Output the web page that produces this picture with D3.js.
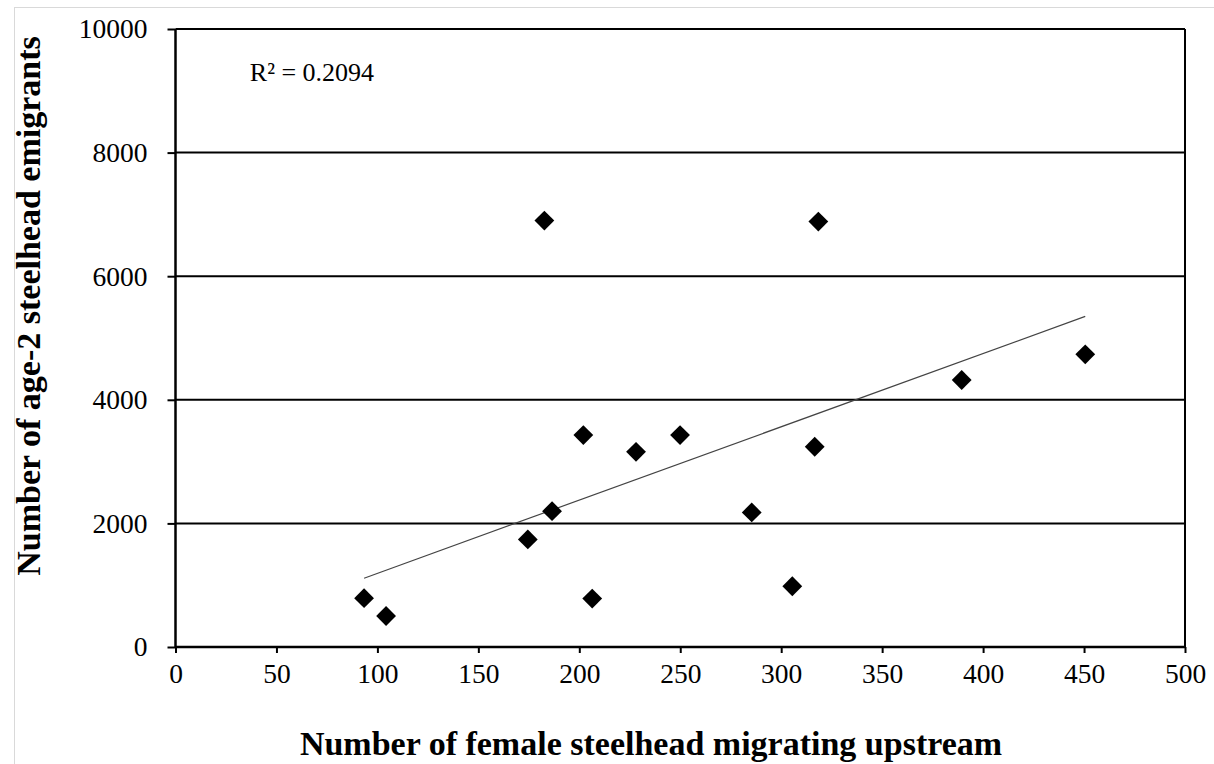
<!DOCTYPE html>
<html>
<head>
<meta charset="utf-8">
<script src="https://cdn.jsdelivr.net/npm/d3@7"></script>
<style>
  html, body { margin: 0; padding: 0; background: #fff; }
  svg text { font-family: "Liberation Serif", "Times New Roman", serif; fill: #000; }
</style>
</head>
<body>
<div id="chart"></div>
<script>
// female steelhead upstream vs. age-2 emigrants
const females   = [93.4, 104.3, 174.5, 186.5, 206.4, 202.0, 228.1, 249.9, 182.7, 285.4, 305.5, 316.6, 318.4, 389.4, 450.6];
const emigrants = [790, 502, 1740, 2198, 784, 3429, 3158, 3429, 6900, 2177, 983, 3240, 6884, 4320, 4736];
const xTicks = [0, 50, 100, 150, 200, 250, 300, 350, 400, 450, 500];
const yTicks = [0, 2000, 4000, 6000, 8000, 10000];
// trend line as drawn in the original (slope, intercept)
const trend = [11.86, 5.5];
const rLabel = 'R² = 0.2094';

const W = 1214, H = 764;
const margin = {top: 29, right: 29, bottom: 117, left: 175.5};
const iw = W - margin.left - margin.right;
const ih = H - margin.top - margin.bottom;

const svg = d3.select('#chart').append('svg')
  .attr('width', W).attr('height', H);

// faint outer frame
svg.append('rect')
  .attr('x', 14.5).attr('y', 7.5).attr('width', W).attr('height', H)
  .attr('fill', 'none').attr('stroke', '#d9d9d9');

const g = svg.append('g').attr('transform', `translate(${margin.left},${margin.top})`);

const x = d3.scaleLinear().domain([0, 500]).range([0, iw]);
const y = d3.scaleLinear().domain([0, 10000]).range([ih, 0]);

// gridlines
g.append('g').selectAll('line')
  .data(yTicks.filter(d => d > 0))
  .enter().append('line')
    .attr('x1', 0).attr('x2', iw)
    .attr('y1', d => y(d)).attr('y2', d => y(d))
    .attr('stroke', '#000').attr('stroke-width', 2);

// right edge
g.append('line')
  .attr('x1', iw).attr('x2', iw).attr('y1', 0).attr('y2', ih)
  .attr('stroke', '#000').attr('stroke-width', 2);

const yAxis = g.append('g')
  .call(d3.axisLeft(y).tickValues(yTicks).tickSize(8).tickPadding(20).tickFormat(d3.format('d')));
const xAxis = g.append('g')
  .attr('transform', `translate(0,${ih})`)
  .call(d3.axisBottom(x).tickValues(xTicks).tickSize(6).tickPadding(10).tickFormat(d3.format('d')));

[yAxis, xAxis].forEach(a => {
  a.select('.domain').attr('stroke', '#000').attr('stroke-width', 2.5);
  a.selectAll('.tick line').attr('stroke', '#000').attr('stroke-width', 2);
  a.selectAll('.tick text')
    .attr('font-family', '"Liberation Serif", serif')
    .attr('font-size', 27.5).attr('fill', '#000');
});
xAxis.select('.domain').attr('d', `M0,0H${iw}`);
yAxis.select('.domain').attr('d', `M0,${ih}V0`);

// linear trend across the data range
const pts = females.map((f, i) => ({x: f, y: emigrants[i]}));
const [x0, x1] = d3.extent(females);
const fit = v => trend[0] * v + trend[1];
g.append('line')
  .attr('x1', x(x0)).attr('y1', y(fit(x0)))
  .attr('x2', x(x1)).attr('y2', y(fit(x1)))
  .attr('stroke', '#444').attr('stroke-width', 1.2);

// markers
const diamond = d3.symbol().type(d3.symbolDiamond2).size(250);
g.selectAll('.pt')
  .data(pts)
  .enter().append('path')
    .attr('class', 'pt')
    .attr('d', diamond)
    .attr('transform', d => `translate(${x(d.x)},${y(d.y)})`)
    .attr('fill', '#000');

g.append('text')
  .attr('x', x(36.8)).attr('y', y(9160))
  .attr('font-size', 26)
  .text(rLabel);

// axis titles
svg.append('text')
  .attr('x', 651).attr('y', 755)
  .attr('text-anchor', 'middle')
  .attr('font-size', 34).attr('font-weight', 'bold')
  .text('Number of female steelhead migrating upstream');

svg.append('text')
  .attr('transform', `translate(40,306) rotate(-90)`)
  .attr('text-anchor', 'middle')
  .attr('font-size', 34).attr('font-weight', 'bold')
  .text('Number of age-2 steelhead emigrants');
</script>
</body>
</html>
